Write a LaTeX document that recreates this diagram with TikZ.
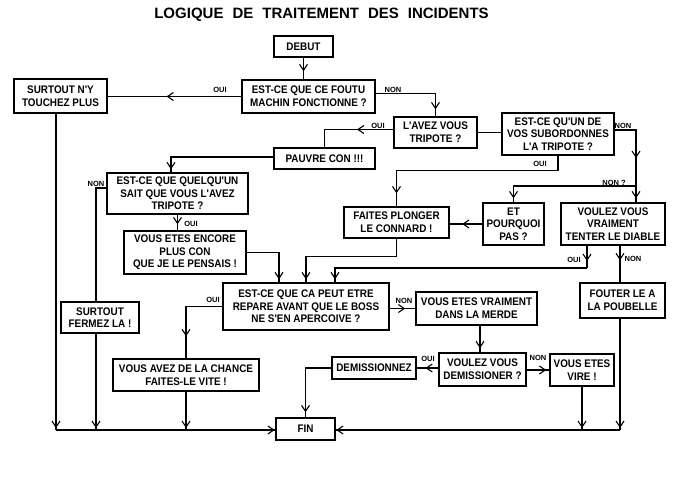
\documentclass[tikz,border=0pt]{standalone}
\usepackage{fontspec}
\setmainfont{Liberation Sans}
\newfontfamily\narrowface{Liberation Sans}[FakeStretch=0.9]
\usetikzlibrary{arrows.meta,decorations.markings}
\newcommand{\boxfont}{\narrowface\bfseries\fontsize{11}{12.6}\selectfont}
\newcommand{\tagfont}{\bfseries\fontsize{7.5}{9}\selectfont}
\tikzset{
  >={Straight Barb[length=6pt,width=8pt]},
  box/.style={draw,line width=1.3pt,align=center,inner sep=1pt,font=\boxfont},
  tag/.style={inner sep=0pt,font=\tagfont},
  wire/.style={line width=1.1pt},
  tipat/.style={postaction={decorate},
    decoration={markings,mark=at position #1 with {\arrow{>}}}},
}
\begin{document}
\begin{tikzpicture}[x=1pt,y=-1pt]
  \useasboundingbox (0,0) rectangle (678,500);
  \node[anchor=base,font=\bfseries\fontsize{15}{18}\selectfont] (title) at (321.5,18.5)
    {\spaceskip=9pt LOGIQUE DE TRAITEMENT DES INCIDENTS};
  % boxes
  \node[box,minimum width=59,minimum height=21] (debut) at (303.5,46.5) {DEBUT};
  \node[box,minimum width=133,minimum height=33] (q1) at (308.5,96.5) {EST-CE QUE CE FOUTU\\MACHIN FONCTIONNE ?};
  \node[box,minimum width=93,minimum height=34] (touchez) at (60.5,96) {SURTOUT N'Y\\TOUCHEZ PLUS};
  \node[box,minimum width=83,minimum height=31] (tripote) at (435.5,132.5) {L'AVEZ VOUS\\TRIPOTE ?};
  \node[box,minimum width=112,minimum height=42] (subord) at (558,134) {EST-CE QU'UN DE\\VOS SUBORDONNES\\L'A TRIPOTE ?};
  \node[box,minimum width=101,minimum height=21] (pauvre) at (324.5,158.5) {PAUVRE CON !!!};
  \node[box,minimum width=141,minimum height=41] (quelqun) at (177.5,193.5) {EST-CE QUE QUELQU'UN\\SAIT QUE VOUS L'AVEZ\\TRIPOTE ?};
  \node[box,minimum width=122,minimum height=43] (encore) at (185,252.5) {VOUS ETES ENCORE\\PLUS CON\\QUE JE LE PENSAIS !};
  \node[box,minimum width=105,minimum height=31] (plonger) at (396.5,222.5) {FAITES PLONGER\\LE CONNARD !};
  \node[box,minimum width=61,minimum height=42] (pourquoi) at (513.5,224) {ET\\POURQUOI\\PAS ?};
  \node[box,minimum width=104,minimum height=42] (diable) at (613,224) {VOULEZ VOUS\\VRAIMENT\\TENTER LE DIABLE};
  \node[box,minimum width=166,minimum height=47] (repare) at (306,306.5) {EST-CE QUE CA PEUT ETRE\\REPARE AVANT QUE LE BOSS\\NE S'EN APERCOIVE ?};
  \node[box,minimum width=78,minimum height=31] (fermez) at (100,317.5) {SURTOUT\\FERMEZ LA !};
  \node[box,minimum width=85,minimum height=35] (poubelle) at (622.5,300.5) {FOUTER LE A\\LA POUBELLE};
  \node[box,minimum width=121,minimum height=33] (merde) at (476.5,308.5) {VOUS ETES VRAIMENT\\DANS LA MERDE};
  \node[box,minimum width=146,minimum height=32] (chance) at (186,375) {VOUS AVEZ DE LA CHANCE\\FAITES-LE VITE !};
  \node[box,minimum width=87,minimum height=33] (demission) at (482.5,369.5) {VOULEZ VOUS\\DEMISSIONER ?};
  \node[box,minimum width=84,minimum height=22] (demissionnez) at (374,368) {DEMISSIONNEZ};
  \node[box,minimum width=64,minimum height=32] (vire) at (582,370) {VOUS ETES\\VIRE !};
  \node[box,minimum width=59,minimum height=22] (fin) at (305.5,429) {FIN};
  % junctions
  \coordinate (bl) at (56,430);
  \coordinate (br) at (620,430);
  \coordinate (split) at (636,186);
  \coordinate (jd) at (587,268);
  % connectors
  \draw[wire,tipat=-8pt] (debut) -- (debut |- q1.north);
  \draw[wire,tipat=.56] (q1.west) -- (q1.west -| touchez.east);
  \draw[wire,tipat=-7pt] ([yshift=3pt]q1.east) -| (tripote.north);
  \draw[wire] (tripote.east) -- (tripote.east -| subord.west);
  \draw[wire,tipat=.42] ([yshift=3pt]tripote.west) -| (pauvre.north);
  \draw[wire,tipat=-3pt] ([yshift=1.5pt]pauvre.west) -| ([xshift=-6.5pt]quelqun.north);
  \draw[wire,tipat=-28pt] ([yshift=4pt]subord.east) -| (split);
  \draw[wire,tipat=-4pt] (split) -- (split |- diable.north);
  \draw[wire,tipat=-4pt] (split) -| (pourquoi.north);
  \draw[wire,tipat=-13pt] (subord.south) -- ++(0,15) -| (plonger.north);
  \draw[wire,tipat=.62] (pourquoi.west) -- (pourquoi.west -| plonger.east);
  \draw[wire,tipat=-7pt] (diable.south -| jd) -- (jd);
  \draw[wire,tipat=-3pt] (jd) -| ([xshift=29pt]repare.north);
  \draw[wire,tipat=-22pt] (diable.south -| br) -- (poubelle.north -| br);
  \draw[wire,tipat=-2pt] (poubelle.south -| br) -- (br);
  \draw[wire,tipat=-0.5pt] (br) -- (br -| fin.east);
  \draw[wire,tipat=-3pt] (plonger.south) -- ++(0,18) -| (repare.north);
  \draw[wire,tipat=-3pt] (encore.east) -| ([xshift=-27pt]repare.north);
  \draw[wire,tipat=-6pt] (quelqun.south) -- (quelqun.south |- encore.north);
  \draw[wire] ([yshift=5.5pt]quelqun.west) -| (fermez.north -| 96,0);
  \draw[wire,tipat=-2pt] (fermez.south -| 96,0) -- (bl -| 96,0);
  \draw[wire,tipat=-2pt] (touchez.south -| bl) -- (bl);
  \draw[wire,tipat=-22pt] (repare.west) -| (chance.north);
  \draw[wire,tipat=-2pt] (chance.south) -- (chance.south |- bl);
  \draw[wire,tipat=-0.5pt] (bl) -- (bl -| fin.west);
  \draw[wire,tipat=-10pt] (repare.east |- merde.west) -- (merde.west);
  \draw[wire,tipat=-4pt] (merde.south -| 480,0) -- (demission.north -| 480,0);
  \draw[wire,tipat=.6] (demission.west |- demissionnez.east) -- (demissionnez.east);
  \draw[wire,tipat=-3pt] (demission.east |- vire.west) -- (vire.west);
  \draw[wire,tipat=-5pt] (demissionnez.west) -| (fin.north);
  \draw[wire,tipat=-2pt] (vire.south) -- (vire.south |- bl);
  % oui / non
  \node[tag] (oui1) at (220,90) {OUI};
  \node[tag] (non1) at (393,90) {NON};
  \node[tag] (oui2) at (378,126) {OUI};
  \node[tag] (non2) at (623,126) {NON};
  \node[tag] (oui3) at (540,164) {OUI};
  \node[tag] (non3) at (614,183) {NON ?};
  \node[tag] (oui4) at (574,260) {OUI};
  \node[tag] (non4) at (633,259) {NON};
  \node[tag] (non5) at (96,184) {NON};
  \node[tag] (oui5) at (191,224) {OUI};
  \node[tag] (oui6) at (213,300) {OUI};
  \node[tag] (non6) at (404,301) {NON};
  \node[tag] (oui7) at (428,359) {OUI};
  \node[tag] (non7) at (538,358) {NON};
\end{tikzpicture}
\end{document}
